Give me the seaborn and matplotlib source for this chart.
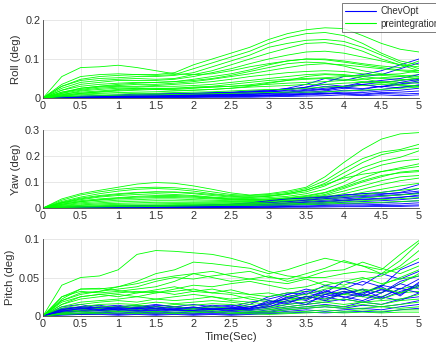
import numpy as np
import pandas as pd
import matplotlib
matplotlib.use("Agg")
import matplotlib.pyplot as plt
import seaborn as sns
from matplotlib.lines import Line2D

# time axis (seconds)
time_s = [i * 0.25 for i in range(21)]

# ---- Roll (milli-degrees) ----
roll_pre = [
    [0, 55, 78, 80, 84, 78, 70, 62, 60, 62, 70, 80, 88, 95, 100, 98, 92, 85, 78, 72, 70],
    [0, 30, 48, 55, 58, 60, 60, 65, 85, 100, 115, 130, 150, 165, 175, 180, 178, 160, 140, 125, 118],
    [0, 35, 55, 60, 62, 60, 58, 60, 75, 90, 105, 120, 140, 155, 165, 168, 160, 140, 115, 95, 85],
    [0, 30, 45, 50, 52, 55, 55, 58, 65, 80, 95, 110, 130, 140, 148, 150, 145, 130, 110, 90, 75],
    [0, 25, 40, 45, 48, 50, 48, 50, 60, 70, 85, 100, 115, 128, 140, 142, 135, 120, 100, 85, 70],
    [0, 20, 35, 40, 45, 45, 45, 48, 55, 65, 75, 88, 100, 110, 118, 120, 115, 105, 95, 85, 80],
    [0, 20, 30, 35, 38, 40, 40, 42, 48, 55, 62, 72, 85, 95, 100, 100, 95, 88, 82, 78, 95],
    [0, 15, 25, 30, 32, 35, 35, 38, 42, 48, 55, 62, 70, 78, 85, 88, 85, 80, 75, 70, 65],
    [0, 15, 22, 28, 30, 30, 32, 35, 38, 42, 48, 55, 60, 65, 68, 70, 68, 62, 58, 55, 60],
    [0, 12, 20, 25, 28, 28, 30, 30, 32, 35, 40, 45, 50, 55, 60, 62, 60, 55, 50, 48, 45],
    [0, 10, 15, 18, 22, 25, 25, 25, 28, 30, 35, 40, 45, 48, 50, 52, 55, 58, 60, 62, 70],
    [0, 8, 12, 15, 18, 20, 22, 22, 25, 28, 30, 32, 35, 38, 40, 42, 45, 48, 52, 55, 50],
    [0, 5, 10, 12, 14, 15, 16, 18, 20, 22, 25, 28, 30, 32, 35, 35, 38, 40, 42, 40, 38],
    [0, 5, 8, 10, 10, 12, 12, 14, 15, 16, 18, 20, 22, 22, 25, 28, 30, 32, 35, 32, 30],
    [0, 3, 5, 6, 7, 8, 8, 9, 10, 11, 12, 13, 14, 15, 15, 16, 18, 20, 22, 25, 28],
    [0, 8, 18, 22, 25, 25, 22, 20, 20, 22, 25, 30, 38, 45, 55, 60, 58, 50, 40, 35, 30],
    [0, 12, 25, 30, 35, 38, 40, 42, 45, 50, 58, 68, 78, 88, 92, 90, 82, 70, 62, 58, 55],
    [0, 6, 12, 16, 20, 22, 24, 25, 26, 28, 30, 34, 40, 45, 48, 50, 48, 42, 38, 45, 52],
]
roll_chev = [
    [0, 2, 3, 4, 5, 5, 6, 7, 8, 9, 10, 12, 15, 20, 28, 40, 55, 60, 70, 85, 100],
    [0, 2, 4, 5, 6, 7, 8, 8, 10, 12, 14, 16, 18, 25, 35, 50, 45, 55, 60, 75, 90],
    [0, 1, 2, 3, 3, 4, 5, 5, 6, 7, 8, 10, 12, 15, 20, 25, 30, 35, 40, 45, 50],
    [0, 1, 2, 2, 3, 3, 4, 5, 5, 6, 8, 9, 10, 12, 15, 18, 25, 22, 30, 35, 40],
    [0, 1, 1, 2, 2, 3, 3, 3, 4, 5, 6, 7, 8, 10, 12, 15, 20, 18, 22, 28, 32],
    [0, 1, 1, 1, 2, 2, 2, 3, 3, 4, 4, 5, 6, 8, 10, 12, 15, 14, 18, 20, 25],
    [0, 0, 1, 1, 1, 1, 2, 2, 2, 3, 3, 4, 5, 6, 8, 10, 12, 10, 14, 15, 18],
    [0, 1, 2, 3, 3, 4, 4, 4, 5, 5, 6, 6, 7, 8, 10, 12, 10, 8, 12, 10, 12],
    [0, 0, 1, 1, 1, 1, 1, 1, 2, 2, 2, 2, 3, 4, 5, 6, 8, 6, 8, 6, 8],
    [0, 1, 2, 2, 3, 4, 5, 6, 8, 10, 12, 15, 18, 22, 28, 35, 30, 40, 45, 50, 60],
    [0, 2, 3, 5, 6, 8, 9, 10, 12, 13, 14, 15, 16, 18, 22, 30, 26, 34, 28, 36, 44],
    [0, 1, 2, 3, 4, 5, 6, 6, 7, 8, 9, 10, 12, 14, 18, 22, 28, 24, 30, 26, 34],
    [0, 3, 5, 6, 8, 10, 11, 12, 12, 14, 15, 18, 20, 24, 26, 20, 30, 35, 28, 40, 48],
]

# ---- Yaw (milli-degrees) ----
yaw_pre = [
    [0, 35, 55, 68, 80, 92, 98, 95, 85, 72, 58, 50, 55, 65, 80, 120, 175, 225, 265, 285, 290],
    [0, 30, 50, 62, 72, 78, 80, 78, 72, 62, 52, 48, 52, 60, 75, 105, 150, 190, 215, 225, 245],
    [0, 25, 42, 55, 65, 72, 75, 72, 65, 55, 48, 45, 48, 55, 68, 95, 135, 175, 205, 220, 230],
    [0, 22, 38, 48, 55, 60, 62, 60, 55, 48, 42, 40, 45, 52, 62, 85, 120, 155, 180, 195, 220],
    [0, 20, 32, 42, 48, 52, 55, 52, 48, 42, 38, 36, 40, 45, 55, 72, 100, 140, 165, 180, 188],
    [0, 18, 28, 35, 40, 45, 48, 48, 45, 40, 35, 33, 35, 40, 48, 60, 85, 115, 140, 155, 170],
    [0, 15, 25, 30, 35, 38, 40, 40, 38, 35, 32, 30, 32, 36, 42, 52, 75, 100, 120, 138, 145],
    [0, 12, 20, 25, 30, 32, 35, 35, 32, 30, 28, 28, 30, 33, 38, 48, 65, 85, 105, 120, 125],
    [0, 10, 16, 20, 24, 26, 28, 28, 27, 26, 25, 25, 27, 30, 35, 42, 55, 72, 90, 105, 115],
    [0, 8, 12, 16, 18, 20, 22, 22, 22, 22, 22, 23, 25, 28, 30, 36, 45, 60, 72, 85, 95],
    [0, 6, 10, 12, 14, 15, 16, 17, 18, 18, 19, 20, 22, 25, 28, 32, 40, 50, 60, 68, 75],
    [0, 4, 7, 9, 10, 11, 12, 13, 14, 15, 16, 17, 18, 20, 22, 25, 30, 38, 45, 50, 55],
    [0, 3, 5, 6, 7, 8, 9, 10, 11, 12, 13, 14, 15, 16, 18, 20, 24, 28, 32, 36, 40],
    [0, 2, 3, 4, 5, 5, 6, 7, 8, 9, 10, 10, 11, 12, 13, 15, 18, 20, 22, 25, 28],
    [0, 20, 35, 45, 52, 58, 62, 62, 58, 52, 45, 42, 45, 55, 70, 90, 115, 130, 140, 150, 160],
    [0, 14, 24, 32, 38, 42, 44, 44, 42, 38, 34, 32, 34, 38, 45, 58, 80, 105, 125, 135, 140],
]
yaw_chev = [
    [0, 3, 5, 6, 8, 9, 10, 10, 11, 12, 14, 18, 25, 35, 40, 45, 50, 55, 60, 70, 90],
    [0, 2, 4, 5, 6, 7, 8, 8, 9, 10, 12, 15, 20, 28, 32, 40, 45, 48, 52, 60, 75],
    [0, 2, 3, 4, 5, 5, 6, 6, 7, 8, 10, 12, 15, 20, 25, 30, 35, 40, 45, 50, 60],
    [0, 1, 2, 3, 4, 4, 5, 5, 6, 7, 8, 10, 12, 15, 18, 22, 28, 32, 35, 40, 50],
    [0, 1, 2, 2, 3, 3, 4, 4, 5, 6, 7, 8, 10, 12, 15, 18, 22, 25, 28, 32, 38],
    [0, 1, 1, 2, 2, 2, 3, 3, 4, 4, 5, 6, 8, 10, 12, 14, 16, 18, 20, 24, 28],
    [0, 0, 1, 1, 1, 2, 2, 2, 3, 3, 4, 4, 5, 6, 8, 10, 12, 12, 14, 16, 20],
    [0, 1, 1, 1, 2, 2, 2, 2, 2, 3, 3, 3, 4, 5, 6, 7, 8, 8, 10, 10, 12],
    [0, 0, 0, 1, 1, 1, 1, 1, 1, 2, 2, 2, 2, 3, 3, 4, 5, 5, 6, 6, 8],
    [0, 2, 3, 4, 5, 6, 7, 8, 10, 12, 15, 20, 28, 35, 38, 42, 50, 55, 55, 58, 65],
    [0, 2, 4, 6, 7, 8, 9, 9, 10, 12, 14, 16, 20, 24, 30, 36, 40, 44, 48, 52, 56],
    [0, 1, 3, 4, 5, 6, 6, 7, 8, 9, 10, 12, 14, 18, 22, 26, 30, 34, 38, 42, 46],
]

# ---- Pitch (milli-degrees) ----
pitch_pre = [
    [0, 40, 50, 52, 60, 80, 85, 84, 82, 80, 75, 68, 58, 52, 50, 50, 55, 58, 55, 62, 75],
    [0, 25, 35, 35, 38, 45, 55, 60, 70, 68, 65, 62, 55, 60, 68, 75, 70, 65, 60, 80, 98],
    [0, 20, 30, 32, 35, 38, 45, 50, 48, 52, 55, 58, 50, 48, 55, 62, 72, 65, 55, 72, 95],
    [0, 25, 32, 30, 32, 35, 38, 45, 55, 50, 45, 48, 52, 45, 50, 58, 60, 70, 62, 55, 65],
    [0, 18, 25, 28, 30, 32, 30, 35, 40, 38, 42, 45, 40, 35, 38, 45, 40, 48, 52, 65, 85],
    [0, 15, 25, 28, 25, 30, 32, 28, 32, 35, 30, 28, 25, 30, 32, 38, 35, 30, 40, 50, 60],
    [0, 15, 22, 25, 28, 25, 30, 32, 35, 30, 28, 22, 18, 22, 25, 30, 28, 35, 30, 42, 55],
    [0, 12, 18, 20, 22, 25, 22, 25, 28, 25, 22, 25, 20, 18, 22, 28, 32, 28, 25, 35, 40],
    [0, 10, 15, 18, 20, 18, 22, 20, 22, 25, 20, 18, 15, 20, 25, 22, 28, 25, 22, 30, 32],
    [0, 8, 12, 15, 16, 15, 18, 16, 18, 20, 18, 15, 12, 15, 18, 20, 22, 18, 20, 22, 28],
    [0, 8, 10, 12, 12, 14, 12, 15, 14, 16, 15, 12, 10, 12, 15, 18, 15, 18, 15, 20, 22],
    [0, 5, 8, 10, 10, 12, 10, 12, 10, 12, 10, 8, 8, 10, 12, 14, 12, 15, 12, 15, 18],
    [0, 4, 6, 7, 8, 8, 9, 8, 9, 10, 8, 6, 6, 8, 10, 12, 10, 10, 12, 10, 12],
    [0, 3, 4, 5, 6, 5, 6, 5, 6, 7, 5, 4, 4, 5, 6, 8, 6, 8, 6, 8, 8],
    [0, 2, 3, 3, 4, 3, 4, 3, 4, 5, 3, 3, 2, 3, 4, 5, 4, 5, 4, 5, 5],
    [0, 20, 28, 32, 38, 42, 48, 52, 55, 58, 52, 48, 45, 42, 48, 40, 45, 50, 42, 48, 52],
    [0, 22, 35, 36, 33, 30, 34, 38, 32, 30, 34, 28, 30, 25, 28, 35, 38, 32, 36, 30, 38],
]
pitch_chev = [
    [0, 12, 15, 10, 12, 14, 10, 12, 15, 12, 10, 15, 25, 30, 28, 40, 35, 45, 38, 60, 70],
    [0, 10, 12, 14, 10, 12, 15, 12, 10, 14, 12, 18, 22, 28, 35, 30, 45, 40, 55, 48, 58],
    [0, 8, 10, 12, 14, 10, 8, 12, 10, 8, 10, 12, 15, 25, 20, 32, 28, 35, 30, 45, 52],
    [0, 6, 8, 10, 8, 10, 12, 10, 8, 10, 8, 10, 12, 18, 25, 22, 30, 25, 35, 30, 42],
    [0, 5, 7, 8, 6, 8, 7, 9, 7, 6, 8, 7, 10, 15, 18, 25, 20, 28, 22, 32, 38],
    [0, 4, 6, 5, 7, 6, 5, 7, 6, 5, 6, 5, 8, 12, 15, 18, 22, 18, 25, 20, 30],
    [0, 3, 4, 5, 4, 5, 4, 5, 4, 5, 4, 5, 6, 10, 12, 15, 12, 18, 15, 22, 25],
    [0, 2, 3, 4, 3, 4, 3, 4, 3, 4, 3, 4, 5, 8, 10, 12, 10, 14, 12, 15, 20],
    [0, 2, 2, 3, 2, 3, 2, 3, 2, 3, 2, 3, 4, 6, 8, 6, 8, 10, 8, 12, 15],
    [0, 1, 2, 2, 1, 2, 1, 2, 1, 2, 1, 2, 3, 4, 5, 4, 5, 6, 5, 8, 10],
    [0, 8, 12, 10, 12, 10, 14, 12, 10, 12, 14, 10, 18, 22, 30, 25, 32, 28, 40, 35, 48],
    [0, 5, 6, 8, 10, 8, 6, 8, 6, 8, 10, 8, 12, 20, 15, 28, 25, 20, 30, 42, 35],
    [0, 9, 11, 8, 11, 9, 12, 9, 12, 8, 11, 9, 14, 24, 32, 28, 36, 26, 34, 28, 40],
    [0, 7, 9, 11, 8, 11, 9, 8, 11, 9, 7, 10, 20, 16, 26, 20, 30, 34, 24, 36, 30],
    [0, 6, 10, 7, 9, 7, 10, 8, 7, 10, 9, 12, 16, 28, 22, 34, 24, 30, 38, 26, 44],
]

panels = [
    ("Roll (deg)", roll_pre, roll_chev, 0.2, [0, 0.1, 0.2], ["0", "0.1", "0.2"]),
    ("Yaw (deg)", yaw_pre, yaw_chev, 0.3, [0, 0.1, 0.2, 0.3], ["0", "0.1", "0.2", "0.3"]),
    ("Pitch (deg)", pitch_pre, pitch_chev, 0.1, [0, 0.05, 0.1], ["0", "0.05", "0.1"]),
]
x_ticks = [0, 0.5, 1, 1.5, 2, 2.5, 3, 3.5, 4, 4.5, 5]
x_labels = ["0", "0.5", "1", "1.5", "2", "2.5", "3", "3.5", "4", "4.5", "5"]

GREEN = "#00ff00"
BLUE = "#0000ff"
TXT = "#303030"

sns.set_theme(style="white")
plt.rcParams["font.family"] = ["Liberation Sans", "DejaVu Sans"]

fig = plt.figure(figsize=(4.36, 3.51), dpi=100)
W, H = 436, 351
boxes = [(20, 98), (130, 208), (239, 316)]
left, right = 43, 419

for (ylab, pre, chev, ymax, yt, ytl), (top, bot) in zip(panels, boxes):
    ax = fig.add_axes([left / W, 1 - bot / H, (right - left) / W, (bot - top) / H])
    # interleave runs of both methods
    n = max(len(pre), len(chev))
    for i in range(n):
        for arr, col in ((pre, GREEN), (chev, BLUE)):
            if i < len(arr):
                df = pd.DataFrame({"t": time_s, "v": np.array(arr[i]) / 1000.0})
                sns.lineplot(data=df, x="t", y="v", ax=ax, color=col, lw=0.6,
                             estimator=None, legend=False)
    ax.set_xlim(0, 5)
    ax.set_ylim(0, ymax)
    ax.set_xticks(x_ticks)
    ax.set_xticklabels(x_labels)
    ax.set_yticks(yt)
    ax.set_yticklabels(ytl)
    ax.grid(True, color="#e3e3e3", lw=0.6)
    ax.set_axisbelow(True)
    for s in ["top", "right"]:
        ax.spines[s].set_visible(False)
    for s in ["left", "bottom"]:
        ax.spines[s].set_color("#404040")
        ax.spines[s].set_linewidth(0.6)
    ax.tick_params(axis="both", labelsize=7.8, colors=TXT, direction="in",
                   length=2, width=0.6, pad=2)
    ax.tick_params(axis="x", length=0)
    ax.set_ylabel(ylab, fontsize=8.2, color=TXT, labelpad=3)
    ax.set_xlabel("")

ax.set_xlabel("Time(Sec)", fontsize=8.2, color=TXT, labelpad=2)

handles = [Line2D([], [], color=BLUE, lw=0.8), Line2D([], [], color=GREEN, lw=0.8)]
leg = fig.legend(handles, ["ChevOpt", "preintegration"], loc="upper left",
                 bbox_to_anchor=(342 / W, 1 - 3 / H), fontsize=7, frameon=True,
                 fancybox=False, borderpad=0.3, handlelength=3.2, handletextpad=0.5,
                 labelspacing=0.3, borderaxespad=0)
leg.get_frame().set_edgecolor("#404040")
leg.get_frame().set_linewidth(0.6)
for t in leg.get_texts():
    t.set_color(TXT)

fig.savefig("out.png", dpi=100)
